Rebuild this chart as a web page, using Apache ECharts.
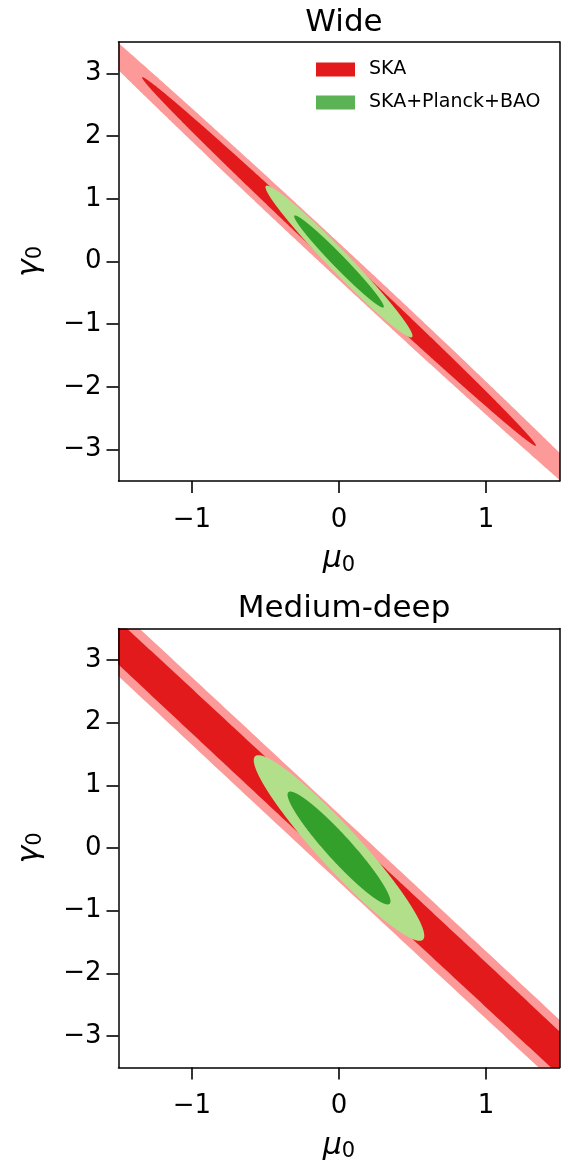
<!DOCTYPE html>
<html>
<head>
<meta charset="utf-8">
<script src="https://cdn.jsdelivr.net/npm/echarts@6/dist/echarts.min.js"></script>
<style>
html,body{margin:0;padding:0;background:#fff;}
#chart{width:562px;height:1167px;}
</style>
</head>
<body>
<div id="chart"></div>
<script>
// ---- data ----
var panelTitles = ['Wide', 'Medium-deep'];
var seriesNames = ['SKA', 'SKA+Planck+BAO'];
var xTicks = [-1, 0, 1];
var yTicks = [-3, -2, -1, 0, 1, 2, 3];
var xRange = [-1.5, 1.5];
var yRange = [-3.5, 3.5];
// contour rows: [centre mu0, centre gamma0, mu0 extent, gamma0 extent, correlation]
// first row = 2-sigma contour, second row = 1-sigma contour
var wideSKA = [[0, 0, 2.2, 4.8, -0.9981], [0, 0, 1.34, 2.94, -0.9981]];
var wideComb = [[0, 0, 0.50, 1.21, -0.98], [0, 0, 0.305, 0.735, -0.98]];
var deepSKA = [[0, 0, 9.8, 21.4, -0.99968], [0, 0, 6.0, 13.1, -0.99962]];
var deepComb = [[0, 0, 0.58, 1.48, -0.945], [0, 0, 0.35, 0.90, -0.945]];

// ---- styles ----
var FONT = 'DejaVu Sans';
var skaFills = ['#fb9a99', '#e31a1c'];
var combFills = ['#b2df8a', '#33a02c'];
var legendColors = ['#e31a1c', '#5cb356'];
var grids = [
  {left: 118.5, right: 2.5, top: 42, height: 439},
  {left: 118.5, right: 2.5, top: 628.5, height: 439}
];

function fmt(v) { return v < 0 ? '\u2212' + (-v) : String(v); }

function ellipseRenderer(fills) {
  return function (params, api) {
    var cx = api.value(0), cy = api.value(1), mx = api.value(2), my = api.value(3), rho = api.value(4);
    var s = Math.sqrt(1 - rho * rho);
    var pts = [];
    var N = 1440;
    for (var i = 0; i < N; i++) {
      var t = 2 * Math.PI * i / N;
      pts.push(api.coord([cx + mx * Math.cos(t), cy + my * (rho * Math.cos(t) + s * Math.sin(t))]));
    }
    return {type: 'polygon', shape: {points: pts}, style: {fill: fills[params.dataIndex], stroke: null}};
  };
}

var nameRich = {
  m: {fontSize: 30, fontStyle: 'italic', fontFamily: FONT, color: '#000'},
  s: {fontSize: 21, fontFamily: FONT, color: '#000', padding: [12, 0, 0, 0]}
};

var xAxes = [], yAxes = [], series = [], titles = [];
[0, 1].forEach(function (g) {
  xAxes.push({
    type: 'value', gridIndex: g, min: xRange[0], max: xRange[1], z: 10,
    name: '{m|\u03bc}{s|0}', nameLocation: 'middle', nameGap: 62,
    nameTextStyle: {color: '#000', fontFamily: FONT, rich: nameRich},
    axisLine: {show: true, onZero: false, lineStyle: {color: '#000', width: 1.5}},
    axisTick: {show: true, length: 12, customValues: xTicks, lineStyle: {color: '#000', width: 1.6}},
    axisLabel: {show: true, customValues: xTicks, formatter: fmt, margin: 26, color: '#000', fontSize: 26, fontFamily: FONT},
    splitLine: {show: false}
  });
  xAxes.push({
    type: 'value', gridIndex: g, position: 'top', min: xRange[0], max: xRange[1], z: 10,
    axisLine: {show: true, onZero: false, lineStyle: {color: '#000', width: 1.5}},
    axisTick: {show: false}, axisLabel: {show: false}, splitLine: {show: false}
  });
  yAxes.push({
    type: 'value', gridIndex: g, min: yRange[0], max: yRange[1], z: 10,
    name: '{m|\u03b3}{s|0}', nameLocation: 'middle', nameGap: 72, nameRotate: 90,
    nameTextStyle: {color: '#000', fontFamily: FONT, rich: nameRich},
    axisLine: {show: true, onZero: false, lineStyle: {color: '#000', width: 1.5}},
    axisTick: {show: true, length: 12, customValues: yTicks, lineStyle: {color: '#000', width: 1.6}},
    axisLabel: {show: true, customValues: yTicks, formatter: fmt, margin: 17, color: '#000', fontSize: 26, fontFamily: FONT},
    splitLine: {show: false}
  });
  yAxes.push({
    type: 'value', gridIndex: g, position: 'right', min: yRange[0], max: yRange[1], z: 10,
    axisLine: {show: true, onZero: false, lineStyle: {color: '#000', width: 1.5}},
    axisTick: {show: false}, axisLabel: {show: false}, splitLine: {show: false}
  });
  titles.push({
    text: panelTitles[g], left: 339, textAlign: 'center', top: g === 0 ? 2 : 588.5,
    textStyle: {fontFamily: FONT, fontSize: 31, fontWeight: 'normal', color: '#000'}
  });
});

var panelData = [[wideSKA, wideComb], [deepSKA, deepComb]];
panelData.forEach(function (pd, g) {
  series.push({
    type: 'custom', name: seriesNames[0], xAxisIndex: 2 * g, yAxisIndex: 2 * g, clip: true,
    itemStyle: {color: legendColors[0]},
    renderItem: ellipseRenderer(skaFills), data: pd[0], z: 2
  });
  series.push({
    type: 'custom', name: seriesNames[1], xAxisIndex: 2 * g, yAxisIndex: 2 * g, clip: true,
    itemStyle: {color: legendColors[1]},
    renderItem: ellipseRenderer(combFills), data: pd[1], z: 3
  });
});

var chart = echarts.init(document.getElementById('chart'), null, {renderer: 'canvas'});
chart.setOption({
  animation: false,
  backgroundColor: '#fff',
  title: titles,
  grid: grids,
  xAxis: xAxes,
  yAxis: yAxes,
  legend: {
    data: seriesNames.map(function (n) { return {name: n, icon: 'rect'}; }),
    orient: 'vertical', left: 316, top: 60, padding: 0,
    itemWidth: 39, itemHeight: 14, itemGap: 14,
    selectedMode: false,
    textStyle: {fontFamily: FONT, fontSize: 19, color: '#000', padding: [0, 0, 0, 9]}
  },
  series: series
});
</script>
</body>
</html>
